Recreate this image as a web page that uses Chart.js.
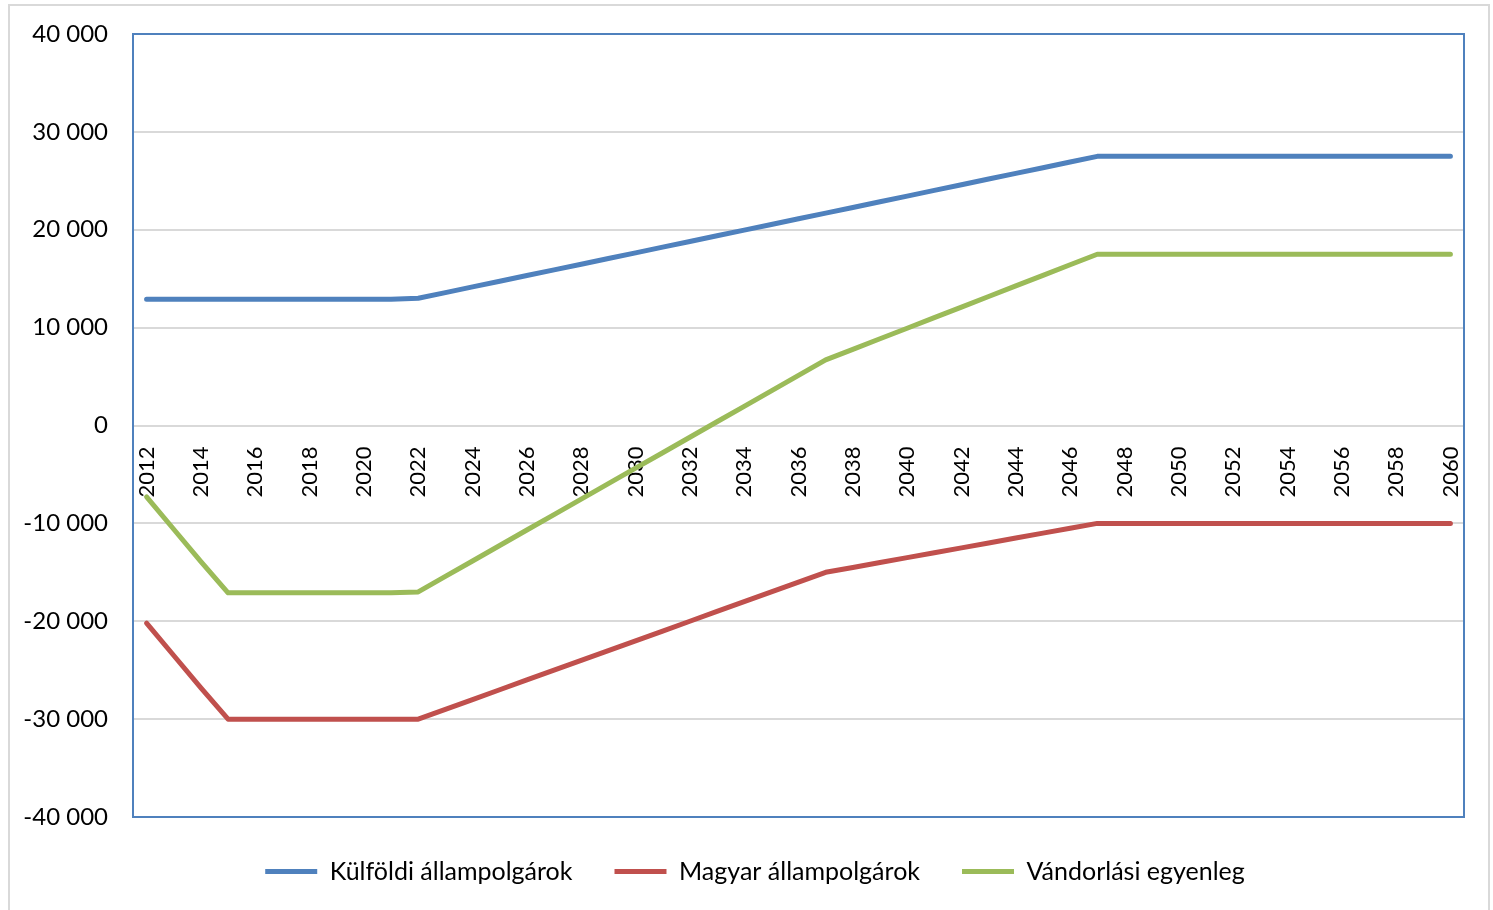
<!DOCTYPE html>
<html>
<head>
<meta charset="utf-8">
<script src="https://cdn.jsdelivr.net/npm/chart.js@4.4.0/dist/chart.umd.min.js"></script>
<style>
    html, body { margin: 0; padding: 0; background: #fff; overflow: hidden; }
    #frame {
        position: absolute;
        left: 8px;
        top: 4px;
        width: 1482px;
        height: 1000px;
        border: 2px solid #d9d9d9;
        box-sizing: border-box;
    }
    #wrap { position: absolute; left: 0; top: 0; width: 1493px; height: 910px; }
</style>
</head>
<body>
<div id="frame"></div>
<div id="wrap"><canvas id="migrationChart"></canvas></div>
<script>
// Categories
const years = [
    '2012', '2013', '2014', '2015', '2016', '2017', '2018', '2019', '2020', '2021',
    '2022', '2023', '2024', '2025', '2026', '2027', '2028', '2029', '2030', '2031',
    '2032', '2033', '2034', '2035', '2036', '2037', '2038', '2039', '2040', '2041',
    '2042', '2043', '2044', '2045', '2046', '2047', '2048', '2049', '2050', '2051',
    '2052', '2053', '2054', '2055', '2056', '2057', '2058', '2059', '2060'
];

// Series values
const foreignCitizens = [
    12900, 12900, 12900, 12900, 12900, 12900, 12900, 12900, 12900, 12900,
    13000, 13580, 14160, 14740, 15320, 15900, 16480, 17060, 17640, 18220,
    18800, 19380, 19960, 20540, 21120, 21700, 22280, 22860, 23440, 24020,
    24600, 25180, 25760, 26340, 26920, 27500, 27500, 27500, 27500, 27500,
    27500, 27500, 27500, 27500, 27500, 27500, 27500, 27500, 27500
];

const hungarianCitizens = [
    -20200, -23500, -26800, -30000, -30000, -30000, -30000, -30000, -30000, -30000,
    -30000, -29000, -28000, -27000, -26000, -25000, -24000, -23000, -22000, -21000,
    -20000, -19000, -18000, -17000, -16000, -15000, -14500, -14000, -13500, -13000,
    -12500, -12000, -11500, -11000, -10500, -10000, -10000, -10000, -10000, -10000,
    -10000, -10000, -10000, -10000, -10000, -10000, -10000, -10000, -10000
];

const netMigration = [
    -7300, -10600, -13900, -17100, -17100, -17100, -17100, -17100, -17100, -17100,
    -17000, -15420, -13840, -12260, -10680, -9100, -7520, -5940, -4360, -2780,
    -1200, 380, 1960, 3540, 5120, 6700, 7780, 8860, 9940, 11020,
    12100, 13180, 14260, 15340, 16420, 17500, 17500, 17500, 17500, 17500,
    17500, 17500, 17500, 17500, 17500, 17500, 17500, 17500, 17500
];

// Tick labels
const yMin = -40000;
const yMax = 40000;
const yStep = 10000;

const FONT = 'Lato, "Open Sans", sans-serif';
const PAD_LEFT = 20;

function formatThousands(v) {
    const sign = v < 0 ? '-' : '';
    return sign + Math.abs(v).toString().replace(/\B(?=(\d{3})+(?!\d))/g, ' ');
}

// Plot area frame
const plotFrame = {
    id: 'plotFrame',
    afterDraw(chart) {
        const a = chart.chartArea;
        const ctx = chart.ctx;
        ctx.save();
        ctx.strokeStyle = '#4f81bd';
        ctx.lineWidth = 2;
        ctx.strokeRect(a.left, a.top, a.right - a.left, a.bottom - a.top);
        ctx.restore();
    }
};

function lineSet(label, data, color) {
    return {
        label: label,
        data: data,
        borderColor: color,
        backgroundColor: color,
        borderWidth: 5,
        pointRadius: 0,
        pointHoverRadius: 0,
        tension: 0,
        borderCapStyle: 'round',
        borderJoinStyle: 'round',
        fill: false
    };
}

const ctx = document.getElementById('migrationChart').getContext('2d');
new Chart(ctx, {
    type: 'line',
    data: {
        labels: years,
        datasets: [
            lineSet('Külföldi állampolgárok', foreignCitizens, '#4f81bd'),
            lineSet('Magyar állampolgárok', hungarianCitizens, '#c0504d'),
            lineSet('Vándorlási egyenleg', netMigration, '#9bbb59')
        ]
    },
    options: {
        responsive: true,
        maintainAspectRatio: false,
        animation: false,
        layout: {
            padding: { left: PAD_LEFT, right: 3, top: 0, bottom: 16 }
        },
        plugins: {
            legend: {
                position: 'bottom',
                labels: {
                    usePointStyle: true,
                    pointStyle: 'line',
                    pointStyleWidth: 52,
                    boxHeight: 24,
                    padding: 42,
                    color: '#000',
                    font: { family: FONT, size: 25 }
                }
            },
            tooltip: { enabled: false }
        },
        scales: {
            x: {
                position: { y: 0 },
                offset: true,
                grid: { display: false, drawTicks: false },
                border: { display: false },
                afterFit: function(scale) {
                    scale.paddingLeft = 0;
                    scale.paddingRight = 29;
                },
                ticks: {
                    autoSkip: false,
                    minRotation: 90,
                    maxRotation: 90,
                    padding: 21,
                    color: '#000',
                    font: { family: FONT, size: 22 },
                    callback: function(value, index) {
                        return index % 2 === 0 ? years[index] : '';
                    }
                }
            },
            y: {
                min: yMin,
                max: yMax,
                grid: { color: '#d9d9d9', lineWidth: 2, drawTicks: false },
                border: { display: false },
                afterFit: function(scale) {
                    scale.width = 133 - PAD_LEFT;
                    scale.paddingTop = 34;
                    scale.paddingBottom = 14;
                },
                ticks: {
                    stepSize: yStep,
                    padding: 25,
                    color: '#000',
                    font: { family: FONT, size: 24 },
                    callback: function(value) { return formatThousands(value); }
                }
            }
        }
    },
    plugins: [plotFrame]
});
</script>
</body>
</html>
